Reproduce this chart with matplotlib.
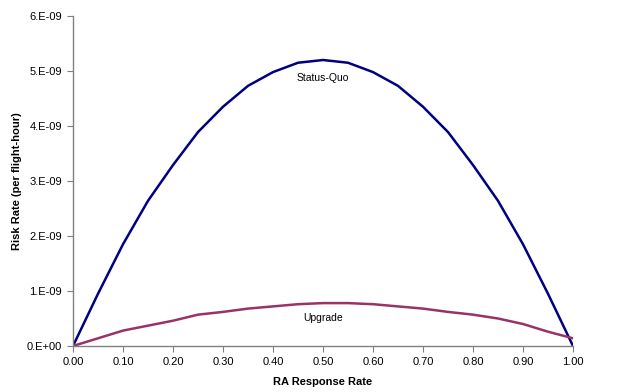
import matplotlib.pyplot as plt

plt.rcParams['font.family'] = ['Liberation Sans', 'DejaVu Sans']

response_rate = [0.00, 0.05, 0.10, 0.15, 0.20, 0.25, 0.30, 0.35, 0.40, 0.45, 0.50,
                 0.55, 0.60, 0.65, 0.70, 0.75, 0.80, 0.85, 0.90, 0.95, 1.00]
status_quo = [0.0, 0.95, 1.85, 2.64, 3.29, 3.89, 4.35, 4.73, 4.98, 5.15, 5.20,
              5.15, 4.98, 4.73, 4.35, 3.89, 3.29, 2.64, 1.85, 0.95, 0.0]
upgrade = [0.0, 0.14, 0.28, 0.37, 0.46, 0.57, 0.62, 0.68, 0.72, 0.76, 0.78,
           0.78, 0.76, 0.72, 0.68, 0.62, 0.57, 0.50, 0.40, 0.26, 0.14]
status_quo = [v * 1e-9 for v in status_quo]
upgrade = [v * 1e-9 for v in upgrade]

fig = plt.figure(figsize=(6.18, 3.92), dpi=100)
ax = fig.add_axes([73 / 618, 1 - 346 / 392, 500 / 618, 330 / 392])

ax.plot(response_rate, status_quo, color='#000080', lw=1.8)
ax.plot(response_rate, upgrade, color='#993366', lw=1.8)

ax.text(0.5, 4.87e-9, 'Status-Quo', ha='center', va='center', fontsize=7.5)
ax.text(0.5, 0.51e-9, 'Upgrade', ha='center', va='center', fontsize=7.5)

ax.set_xlim(0, 1)
ax.set_ylim(0, 6e-9)
ax.set_xticks([i / 10 for i in range(11)])
ax.set_xticklabels([f'{i / 10:.2f}' for i in range(11)])
ax.set_yticks([i * 1e-9 for i in range(7)])
ax.set_yticklabels(['0.E+00'] + [f'{i}.E-09' for i in range(1, 7)])

for side in ['top', 'right']:
    ax.spines[side].set_visible(False)
for side in ['left', 'bottom']:
    ax.spines[side].set_color('#808080')
    ax.spines[side].set_linewidth(1)
ax.tick_params(direction='out', length=4, color='#808080', labelsize=8, pad=4)

ax.set_xlabel('RA Response Rate', fontsize=8, fontweight='bold', labelpad=7)
ax.set_ylabel('Risk Rate (per flight-hour)', fontsize=8, fontweight='bold', labelpad=3)

fig.savefig('out.png', dpi=100, facecolor='white')
